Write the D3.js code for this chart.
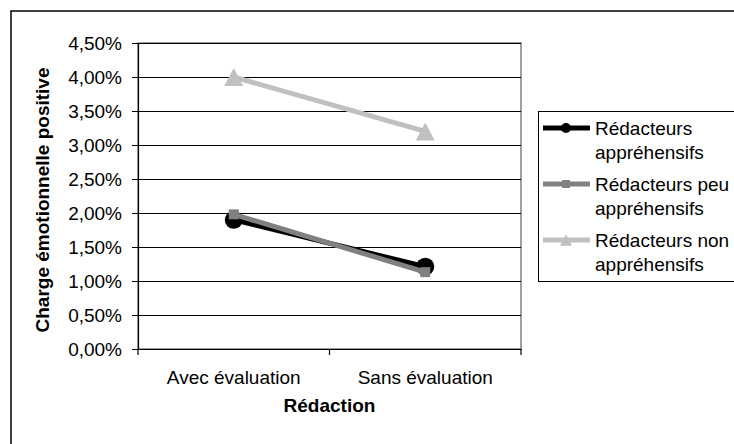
<!DOCTYPE html>
<html lang="fr">
<head>
    <meta charset="UTF-8">
    <title>Charge émotionnelle positive</title>
    <style>
        body { margin: 0; background: #fff; }
        text {
            font-family: "Liberation Sans", Arial, sans-serif;
            font-size: 19px;
            fill: #000;
        }
        .title { font-weight: bold; }
        .grid line { stroke: #000; stroke-width: 1px; shape-rendering: crispEdges; }
    </style>
</head>
<body>
    <svg id="chart" width="734" height="444"></svg>

    <script src="https://d3js.org/d3.v7.min.js"></script>
    <script>
        // values (in %)
        const categories = ["Avec évaluation", "Sans évaluation"];
        const seriesNames = ["Rédacteurs appréhensifs", "Rédacteurs peu appréhensifs", "Rédacteurs non appréhensifs"];
        const apprehensifs = [1.90, 1.21];
        const peuApprehensifs = [1.98, 1.13];
        const nonApprehensifs = [4.00, 3.20];
        const yTicks = [0, 0.5, 1, 1.5, 2, 2.5, 3, 3.5, 4, 4.5];

        const series = [
            { name: seriesNames[0], values: apprehensifs, color: "#000000", marker: "circle" },
            { name: seriesNames[1], values: peuApprehensifs, color: "#808080", marker: "square" },
            { name: seriesNames[2], values: nonApprehensifs, color: "#c0c0c0", marker: "triangle" }
        ];

        const svg = d3.select("#chart");

        // outer chart border (cut off at right and bottom)
        svg.append("rect")
            .attr("x", 11).attr("y", 11)
            .attr("width", 760).attr("height", 460)
            .attr("fill", "none")
            .attr("stroke", "#000")
            .attr("stroke-width", 1.5);

        const plot = { left: 138, right: 521, top: 43, bottom: 349 };

        const x = d3.scaleBand()
            .domain(categories)
            .range([plot.left, plot.right]);

        const y = d3.scaleLinear()
            .domain([0, 4.5])
            .range([plot.bottom, plot.top]);

        const fmt = v => d3.format(".2f")(v).replace(".", ",") + "%";

        // plot area border
        svg.append("rect")
            .attr("x", plot.left).attr("y", plot.top)
            .attr("width", plot.right - plot.left)
            .attr("height", plot.bottom - plot.top)
            .attr("fill", "none")
            .attr("stroke", "#808080")
            .attr("stroke-width", 1.5);

        // gridlines
        svg.append("g")
            .attr("class", "grid")
            .selectAll("line")
            .data(yTicks)
            .join("line")
            .attr("x1", plot.left)
            .attr("x2", plot.right)
            .attr("y1", d => Math.round(y(d)) + 0.5)
            .attr("y2", d => Math.round(y(d)) + 0.5);

        // y axis
        const yAxis = svg.append("g")
            .attr("transform", `translate(${plot.left},0)`)
            .call(d3.axisLeft(y).tickValues(yTicks).tickFormat(fmt).tickSize(6).tickPadding(10));
        yAxis.select(".domain").attr("stroke", "#000").attr("stroke-width", 1.2);
        yAxis.selectAll("text").style("font-size", "19px").style("font-family", "Liberation Sans, Arial, sans-serif");

        // x axis: ticks on category boundaries
        const xAxis = svg.append("g")
            .attr("transform", `translate(0,${plot.bottom})`)
            .call(d3.axisBottom(x).tickSize(0).tickPadding(22));
        xAxis.select(".domain").attr("stroke", "#000").attr("stroke-width", 1.2);
        xAxis.selectAll("text").style("font-size", "19px").style("font-family", "Liberation Sans, Arial, sans-serif");
        const bounds = categories.map(c => x(c)).concat([x(categories[categories.length - 1]) + x.bandwidth()]);
        svg.append("g")
            .selectAll("line")
            .data(bounds)
            .join("line")
            .attr("x1", d => d).attr("x2", d => d)
            .attr("y1", plot.bottom).attr("y2", plot.bottom + 6)
            .attr("stroke", "#000")
            .attr("stroke-width", 1.2);

        // axis titles
        svg.append("text")
            .attr("class", "title")
            .attr("x", (plot.left + plot.right) / 2)
            .attr("y", 412)
            .attr("text-anchor", "middle")
            .text("Rédaction");

        svg.append("text")
            .attr("class", "title")
            .attr("transform", `translate(49,${(plot.top + plot.bottom) / 2 + 4}) rotate(-90)`)
            .attr("text-anchor", "middle")
            .text("Charge émotionnelle positive");

        function drawMarker(g, type, cx, cy, size, color) {
            if (type === "circle") {
                g.append("circle").attr("cx", cx).attr("cy", cy).attr("r", size / 2).attr("fill", color);
            } else if (type === "square") {
                g.append("rect")
                    .attr("x", cx - size / 2).attr("y", cy - size / 2)
                    .attr("width", size).attr("height", size)
                    .attr("fill", color);
            } else {
                const h = size * 0.95;
                g.append("path")
                    .attr("d", `M${cx},${cy - h / 2}L${cx + size / 2},${cy + h / 2}L${cx - size / 2},${cy + h / 2}Z`)
                    .attr("fill", color);
            }
        }

        const cx = c => x(c) + x.bandwidth() / 2;
        const line = d3.line()
            .x((d, i) => cx(categories[i]))
            .y(d => y(d));

        const markerSize = { circle: 18, square: 10, triangle: 19 };

        // series
        series.forEach(s => {
            const g = svg.append("g");
            g.append("path")
                .datum(s.values)
                .attr("d", line)
                .attr("fill", "none")
                .attr("stroke", s.color)
                .attr("stroke-width", 5);
            s.values.forEach((v, i) => {
                drawMarker(g, s.marker, cx(categories[i]), y(v), markerSize[s.marker], s.color);
            });
        });

        // legend
        const legend = svg.append("g");
        legend.append("rect")
            .attr("x", 538.5).attr("y", 111.5)
            .attr("width", 220).attr("height", 170)
            .attr("fill", "#fff")
            .attr("stroke", "#000")
            .attr("stroke-width", 1);

        const legendMarker = { circle: 10, square: 8, triangle: 12 };
        series.forEach((s, i) => {
            const ly = 128 + i * 56;
            legend.append("line")
                .attr("x1", 543).attr("x2", 590)
                .attr("y1", ly).attr("y2", ly)
                .attr("stroke", s.color)
                .attr("stroke-width", 5);
            drawMarker(legend, s.marker, 566, ly, legendMarker[s.marker], s.color);

            const words = s.name.split(" ");
            const t = legend.append("text").attr("x", 595).attr("y", ly + 7);
            t.append("tspan").attr("x", 595).text(words.slice(0, -1).join(" "));
            t.append("tspan").attr("x", 595).attr("dy", 23.5).text(words[words.length - 1]);
        });
    </script>
</body>
</html>
